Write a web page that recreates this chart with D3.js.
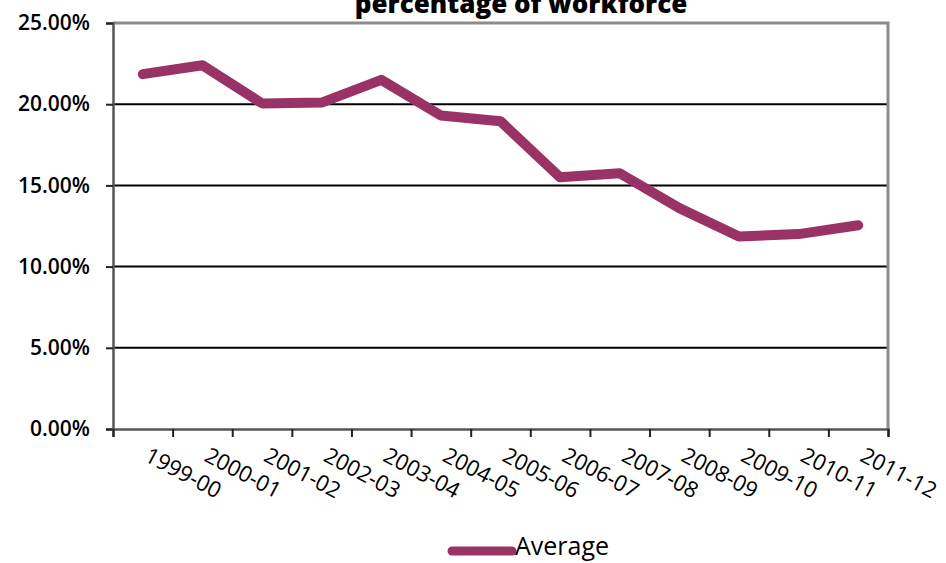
<!DOCTYPE html>
<html>
<head>
<meta charset="utf-8">
<script src="https://cdn.jsdelivr.net/npm/d3@7"></script>
<style>
  html, body { margin: 0; padding: 0; background: #fff; }
  svg { display: block; }
  text { font-family: "Open Sans", sans-serif; fill: #000; }
</style>
</head>
<body>
<svg id="chart" width="946" height="563"></svg>
<script>
// Financial years shown along the x axis
const categories = ["1999-00","2000-01","2001-02","2002-03","2003-04","2004-05","2005-06",
                    "2006-07","2007-08","2008-09","2009-10","2010-11","2011-12"];
// Average share of the workforce, in percent
const averageValues = [21.85, 22.4, 20.05, 20.1, 21.5, 19.3, 18.95, 15.5, 15.75, 13.6, 11.85, 12.0, 12.55];
// Y axis tick values, in percent
const yTicks = [0, 5, 10, 15, 20, 25];
const seriesName = "Average";
const titleText = "percentage of workforce";

const svg = d3.select("#chart");
const plot = { left: 113, right: 888, top: 23, bottom: 429 };
const lineColor = "#993366";

const x = d3.scaleBand().domain(categories).range([plot.left, plot.right]).padding(0);
const xEdge = d3.scaleLinear().domain([0, categories.length]).range([plot.left, plot.right]);
const y = d3.scaleLinear().domain([0, 25]).range([plot.bottom, plot.top]);

// Title (its upper part runs past the top edge)
svg.append("text")
  .attr("x", 521).attr("y", 13)
  .attr("text-anchor", "middle")
  .style("font-size", "26px").style("font-weight", "800")
  .text(titleText);

// Horizontal gridlines
svg.append("g")
  .selectAll("line")
  .data(yTicks.filter(d => d > 0 && d < 25))
  .join("line")
  .attr("x1", plot.left).attr("x2", plot.right)
  .attr("y1", d => y(d)).attr("y2", d => y(d))
  .attr("stroke", "#000").attr("stroke-width", 2);

// Plot area border (top and right)
svg.append("path")
  .attr("d", `M${plot.left},${y(25)}H${plot.right}V${plot.bottom}`)
  .attr("fill", "none").attr("stroke", "#8c8c8c").attr("stroke-width", 3);

// Y axis
const yAxis = svg.append("g")
  .attr("transform", `translate(${plot.left},0)`)
  .call(d3.axisLeft(y).tickValues(yTicks).tickSize(7).tickPadding(16)
        .tickFormat(d => d.toFixed(2) + "%"));
yAxis.select(".domain").attr("stroke", "#555").attr("stroke-width", 2.5);
yAxis.selectAll(".tick line").attr("stroke", "#222").attr("stroke-width", 2);
yAxis.selectAll(".tick text")
  .style("font-size", "21px").style("font-weight", "600")
  .style("font-family", "'Open Sans', sans-serif").attr("fill", "#000");

// X axis: tick marks on category boundaries
const xAxis = svg.append("g")
  .attr("transform", `translate(0,${plot.bottom})`)
  .call(d3.axisBottom(xEdge).tickValues(d3.range(categories.length + 1)).tickSize(8).tickFormat(""));
xAxis.select(".domain").attr("stroke", "#555").attr("stroke-width", 2.5);
xAxis.selectAll(".tick line").attr("stroke", "#222").attr("stroke-width", 2);

// Rotated category labels
svg.append("g")
  .selectAll("text")
  .data(categories)
  .join("text")
  .attr("transform", d => `translate(${x(d) + x.bandwidth() / 2 + 8},446) rotate(28)`)
  .attr("x", 0).attr("y", 16)
  .attr("text-anchor", "start")
  .style("font-size", "22px").style("font-weight", "500")
  .text(d => d);

// Series line
const line = d3.line()
  .x((d, i) => x(categories[i]) + x.bandwidth() / 2)
  .y(d => y(d));
svg.append("path")
  .datum(averageValues)
  .attr("d", line)
  .attr("fill", "none")
  .attr("stroke", lineColor)
  .attr("stroke-width", 10)
  .attr("stroke-linejoin", "round")
  .attr("stroke-linecap", "round");

// Legend
const legend = svg.append("g").attr("transform", "translate(452,551)");
legend.append("line")
  .attr("x1", 0).attr("x2", 60).attr("y1", 0).attr("y2", 0)
  .attr("stroke", lineColor).attr("stroke-width", 9).attr("stroke-linecap", "round");
legend.append("text")
  .attr("x", 63).attr("y", 4)
  .style("font-size", "25px")
  .text(seriesName);
</script>
</body>
</html>
